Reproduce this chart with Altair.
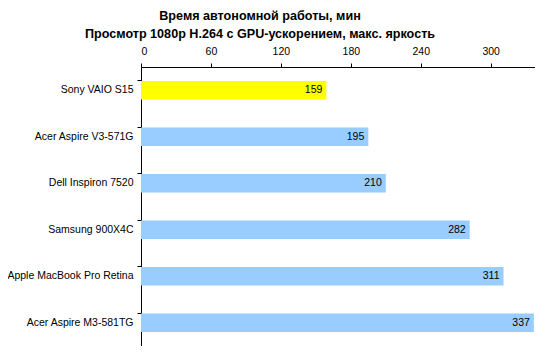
import altair as alt
import pandas as pd

models = ["Sony VAIO S15", "Acer Aspire V3-571G", "Dell Inspiron 7520",
          "Samsung 900X4C", "Apple MacBook Pro Retina", "Acer Aspire M3-581TG"]
minutes = [159, 195, 210, 282, 311, 337]
colors = ["#FFFF00", "#99CCFF", "#99CCFF", "#99CCFF", "#99CCFF", "#99CCFF"]
ticks = [0, 60, 120, 180, 240, 300]

df = pd.DataFrame({"model": models, "minutes": minutes, "color": colors})

FONT = "Liberation Sans"

base = alt.Chart(df).encode(
    y=alt.Y("model:N", sort=models, title=None,
            scale=alt.Scale(paddingInner=0.6, paddingOuter=0.3),
            axis=alt.Axis(bandPosition=0, tickSize=4, labelPadding=4,
                          labelFont=FONT, labelFontSize=10.5, labelColor="#000",
                          domainColor="#000", tickColor="#000", grid=False)),
)

bars = base.mark_bar().encode(
    x=alt.X("minutes:Q", title=None,
            scale=alt.Scale(domain=[0, 338], nice=False),
            axis=alt.Axis(orient="top", values=ticks, tickSize=4, labelPadding=7,
                          labelFont=FONT, labelFontSize=10.5, labelColor="#000",
                          domainColor="#000", tickColor="#000", grid=False,
                          labelOverlap=False)),
    color=alt.Color("color:N", scale=None),
)

labels = base.mark_text(align="right", baseline="middle", dx=-4,
                        font=FONT, fontSize=10.5, color="#000").encode(
    x=alt.X("minutes:Q"),
    text=alt.Text("minutes:Q"),
)

chart = (bars + labels).properties(
    width=394, height=279,
    padding={"left": 133, "top": 59, "right": 0, "bottom": 0},
    autosize=alt.AutoSizeParams(type="none"),
    title=alt.TitleParams(
        text=["Время автономной работы, мин",
              "Просмотр 1080p H.264 с GPU-ускорением, макс. яркость"],
        font=FONT, fontSize=12.6, fontWeight="bold", color="#000",
        anchor="middle", dx=-78, offset=5, lineHeight=18),
).configure_view(stroke=None)

chart.save("out.html", embed_options={"renderer": "svg", "actions": False})
